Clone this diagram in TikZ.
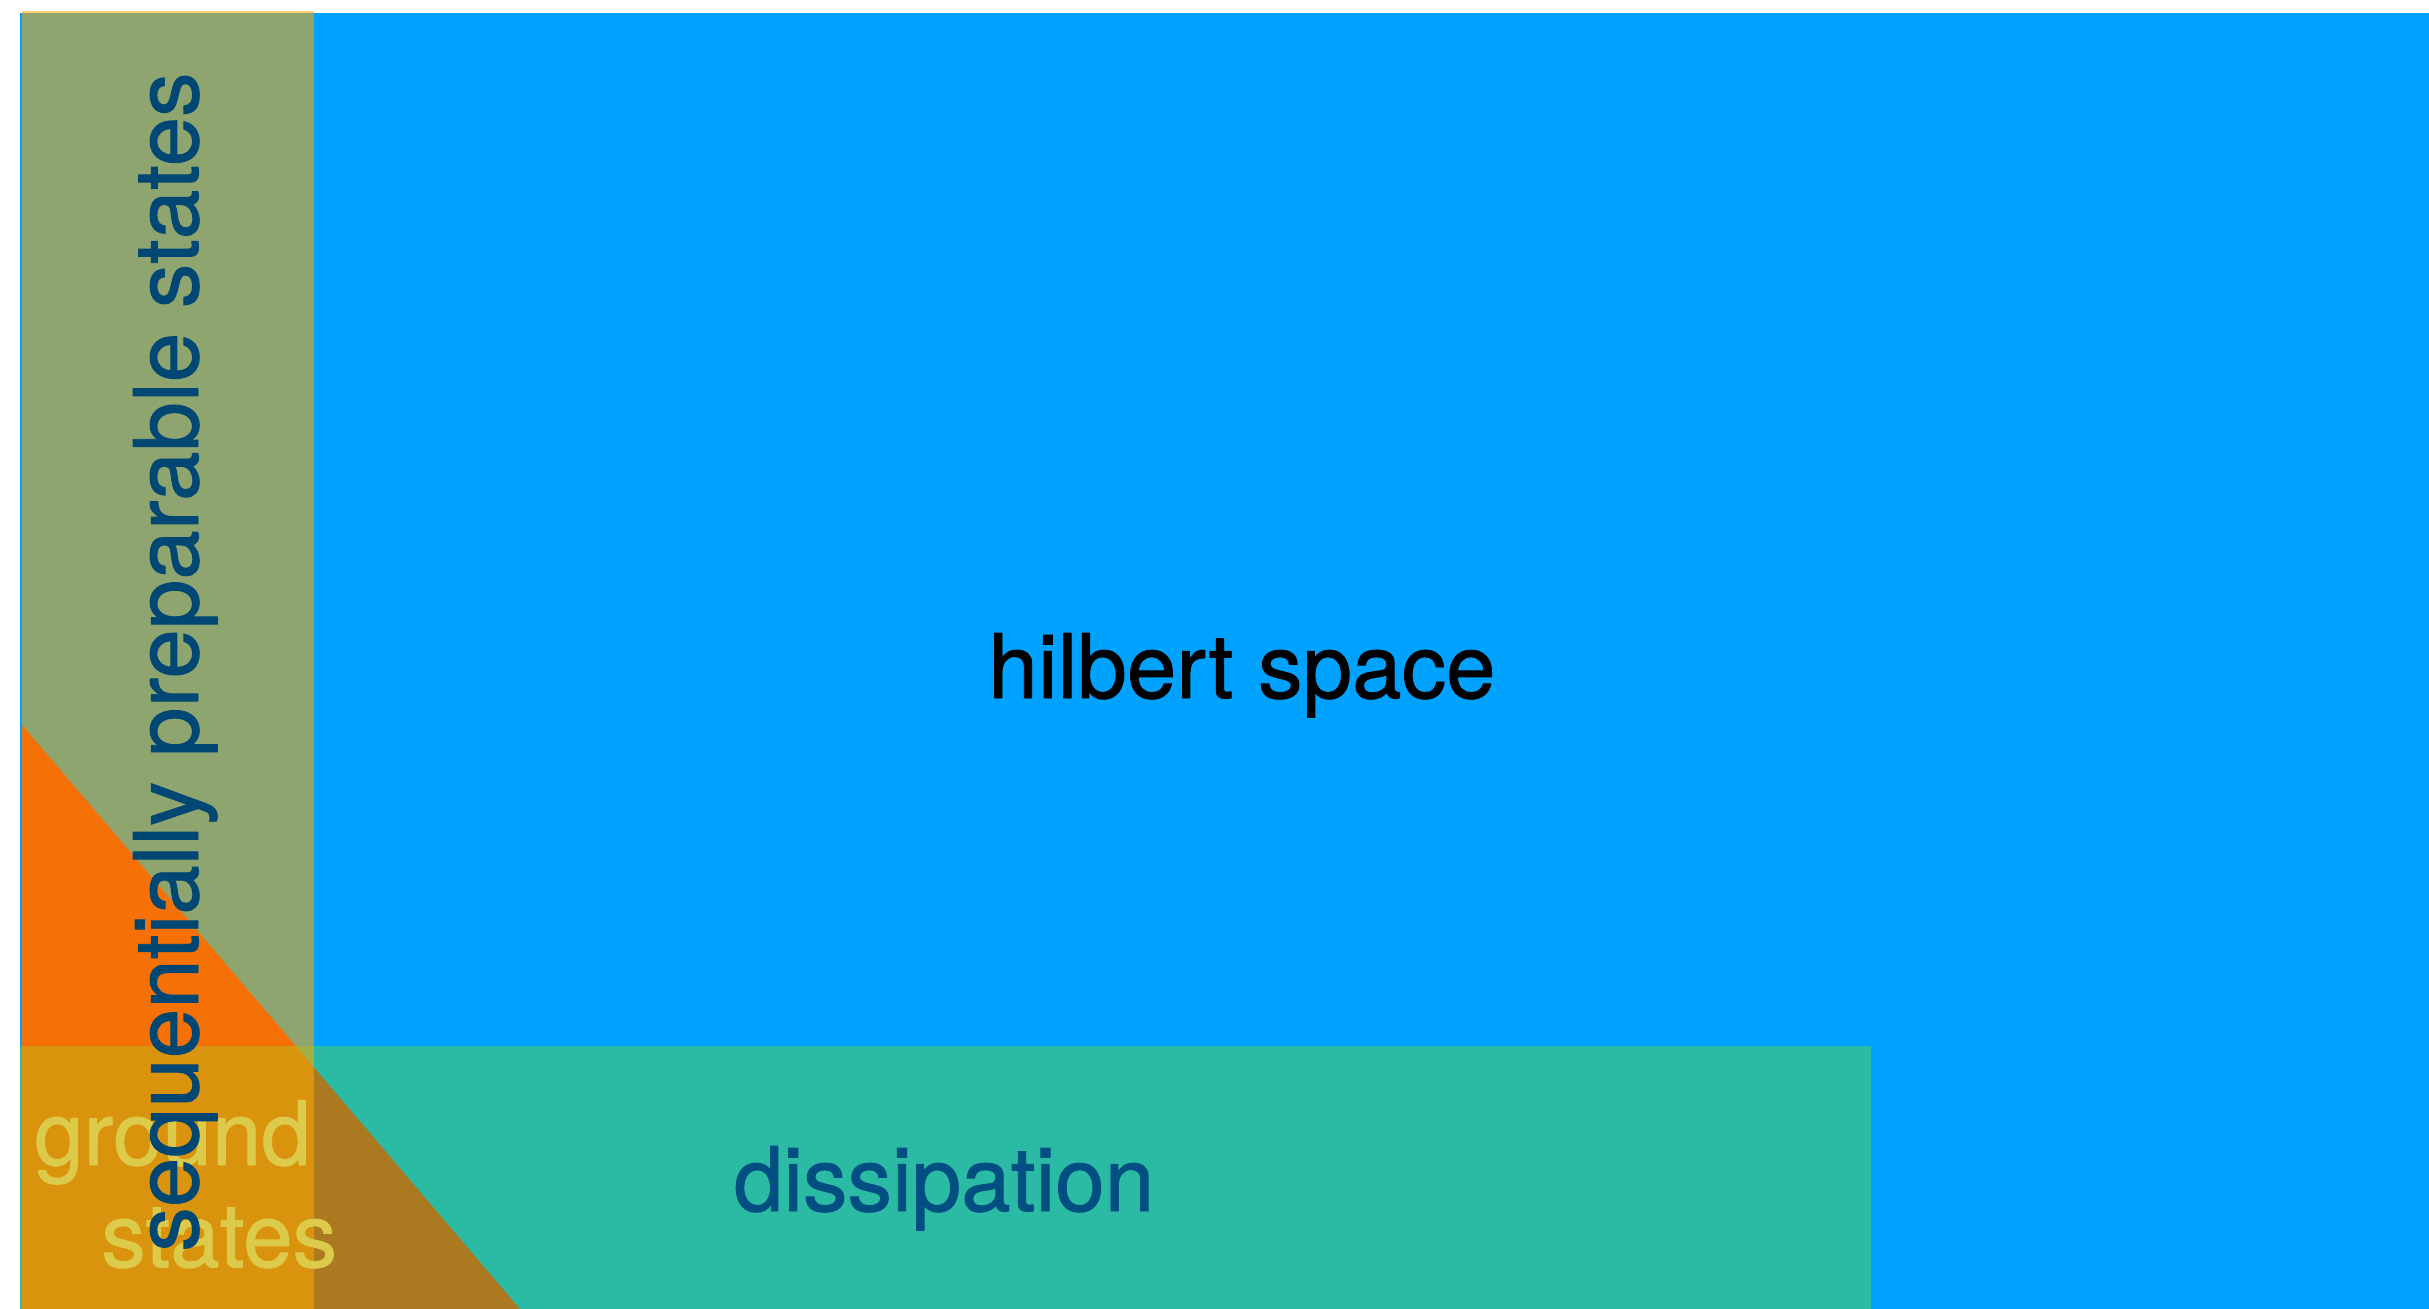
\documentclass[tikz,border=0pt]{standalone}
\usepackage{fontspec}
\setmainfont{TeX Gyre Heros}[FakeBold=1]
\usetikzlibrary{positioning}
\definecolor{hilbertblue}{RGB}{0,162,255}
\definecolor{dissipgreen}{RGB}{97,216,54}
\definecolor{seqyellow}{RGB}{255,169,0}
\definecolor{groundred}{RGB}{233,43,13}
\definecolor{labelblue}{RGB}{0,72,115}
\definecolor{dissipblue}{RGB}{0,78,130}
\definecolor{groundtext}{RGB}{220,203,74}

\begin{document}
\begin{tikzpicture}[
  x=1pt, y=-1pt,
  every node/.style={font=\fontsize{89}{102}\selectfont, inner sep=0pt},
  setlabel/.style={anchor=base}
]
  \useasboundingbox (0,0) rectangle (2429,1309);

  % Regions
  \fill[hilbertblue] (20,12.5) rectangle (2429,1309);
  \fill[groundred] (22,725) -- (520,1309) -- (22,1309) -- cycle;
  \fill[dissipgreen, fill opacity=0.45] (20,1046) rectangle (1871,1309);
  \fill[seqyellow, fill opacity=0.56] (22,11) rectangle (314,1309);

  % Labels
  \node[setlabel, text=black] (hilbert) at (1242,698) {hilbert space};
  \node[setlabel, text=dissipblue] (dissip) at (944,1211) {dissipation};
  \node[setlabel, text=groundtext, align=center] (ground) at (172.5,1267)
    {ground\\\hspace*{1.05em}states};
  \node[setlabel, rotate=90, text=labelblue] (seqprep) at (198,662)
    {sequentially preparable states};
\end{tikzpicture}
\end{document}
